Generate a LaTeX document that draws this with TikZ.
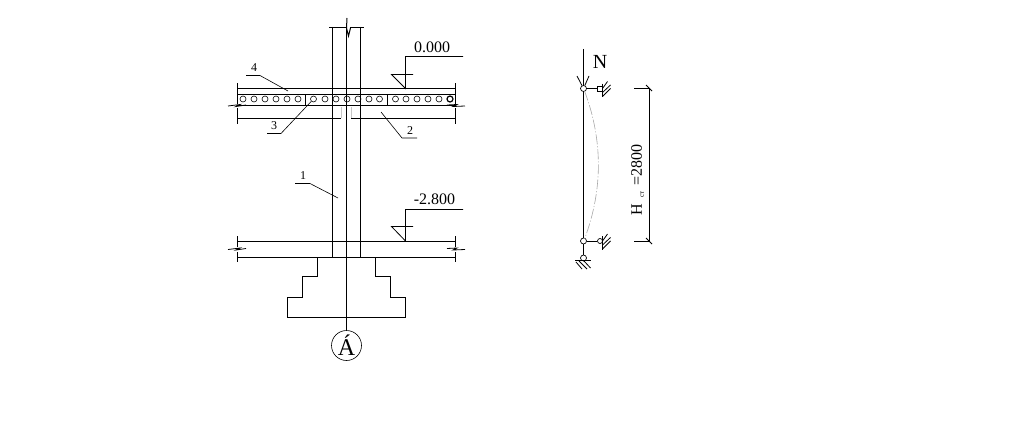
\documentclass[tikz,border=0pt]{standalone}
\usepackage{fontspec}
\setmainfont{Liberation Serif}
\tikzset{
  ln/.style={line width=0.8pt,black},
  thin ln/.style={line width=0.6pt,black},
  hole/.style={circle,draw,line width=0.6pt,minimum size=6pt,inner sep=0pt},
  lbl/.style={font=\fontsize{12}{12}\selectfont,inner sep=0pt},
  lvl/.style={font=\fontsize{16}{16}\selectfont,inner sep=0pt},
  ghost/.style={line width=0.5pt,gray!45},
  joint/.style={circle,draw,line width=0.7pt,minimum size=6pt,inner sep=0pt}
}
% break mark on a slab edge: centre x, level y of the mark
\newcommand{\brkL}[2]{\draw[ln] (#1-9.5,#2+0.5) -- (#1+2.5,#2-1) -- (#1-1.5,#2+1) -- (#1+8.5,#2-0.5);}
\newcommand{\brkR}[2]{\draw[ln] (#1-8.5,#2-0.5) -- (#1+1.5,#2-1) -- (#1-2.5,#2+1) -- (#1+9.5,#2+0.5);}
\begin{document}
\begin{tikzpicture}[x=1pt,y=-1pt]
\useasboundingbox (0,0) rectangle (1024,428);
% column
\draw[ln] (332.5,27) -- (332.5,257.5) (360.5,27) -- (360.5,257.5);
\draw[ln] (329,27) -- (346,27) (350,27) -- (364,27);
\draw[ln] (346.5,28) -- (346.5,331);
\draw[line width=1pt] (347,18) -- (346.5,28) -- (348.5,36) -- (350.5,28);
% slab
\draw[ln] (237.5,88.5) -- (455.5,88.5) (237.5,94) -- (455.5,94) (237.5,105.5) -- (455.5,105.5);
\draw[ln] (237.5,118.5) -- (341,118.5) (351,118.5) -- (455.5,118.5);
\draw[ln] (237.5,83) -- (237.5,103.5) (237.5,108) -- (237.5,124) (455.5,83) -- (455.5,103.5) (455.5,108) -- (455.5,124);
\draw[ln] (305.5,94) -- (305.5,105.5) (387.5,94) -- (387.5,105.5);
\draw[ghost] (341,107) -- (341,118) (351,107) -- (351,118);
\brkL{237.5}{105.5}
\brkR{455.5}{105.5}
\foreach \i/\x in {a/243,b/254,c/265,d/276,e/287,f/298,g/313.5,h/325,i/336,j/347,k/358,l/369,m/379.5,n/395.5,o/406,p/417,q/428,r/439}
  \node[hole] (h\i) at (\x,99) {};
\node[hole,line width=1.2pt] (hs) at (450,99) {};
% slab bottom
\draw[ln] (237.5,241) -- (455.5,241) (237.5,257.5) -- (455.5,257.5);
\draw[ln] (237.5,236) -- (237.5,247) (237.5,252) -- (237.5,262) (455.5,236) -- (455.5,247) (455.5,252) -- (455.5,262);
\brkL{237.5}{249}
\brkR{455.5}{249}
% footing
\draw[ln] (317.5,257.5) |- (302.5,276.5) |- (287.5,297) |- (405.5,317.5) |- (390.5,297) |- (375.5,276.5) -- (375.5,257.5);
% axis bubble
\node[circle,draw,line width=0.6pt,minimum size=30pt,inner sep=0pt,font=\fontsize{24}{24}\selectfont] (ax) at (346.5,345.5) {Á};
% leaders
\node[lbl] (n4) at (254,68) {4};
\draw[thin ln] (246,75.5) -- (260,75.5) -- (288,91);
\node[lbl] (n3) at (274,126) {3};
\draw[thin ln] (267,133.5) -- (281,133.5) -- (hg);
\node[lbl] (n2) at (410,131) {2};
\draw[thin ln] (417,138) -- (402,138) -- (381,112);
\node[lbl] (n1) at (303,176) {1};
\draw[thin ln] (295,183.5) -- (310,183.5) -- (338,198);
% levels
\node[lvl] (l0) at (432,47) {0.000};
\draw[ln] (463,56.5) -- (405.5,56.5) -- (405.5,88.5) -- (391.5,74.5) -- (413,74.5);
\node[lvl] (l1) at (434.5,199) {-2.800};
\draw[ln] (463,209.5) -- (405.5,209.5) -- (405.5,241) -- (391.5,226.5) -- (413,226.5);
% scheme
\node[joint] (j1) at (583.5,88.5) {};
\node[joint] (j2) at (583.5,241) {};
\node[joint] (j3) at (583.5,258) {};
\node[draw,line width=0.7pt,minimum size=5pt,inner sep=0pt] (s1) at (600,88.5) {};
\node[joint,minimum size=5pt] (s2) at (600,241) {};
\draw[ln] (583.5,49) -- (j1) (j1) -- (j2) (j2) -- (j3);
\draw[ln] (j1) -- (s1) (j2) -- (s2);
\draw[ln] (577,76) -- (j1) -- (589,76);
\node[font=\fontsize{20}{20}\selectfont,inner sep=0pt] (N) at (600,62) {N};
\foreach \y in {88.5,241}{
  \draw[ln] (602.5,\y-5) -- (602.5,\y+8.5);
  \draw[ln] (602.5,\y) -- (607.5,\y-7) (602.5,\y+4) -- (610.5,\y-3.5) (602.5,\y+8) -- (610.5,\y);
}
\draw[ln] (575,260.5) -- (591,260.5);
\draw[ln] (576,262) -- (582,269) (579,261) -- (587,269) (584,261) -- (590.5,268);
\draw[line width=0.6pt,gray!70,dash pattern=on 10pt off 2pt on 1pt off 2pt] (584.5,91) .. controls (603,140) and (603,190) .. (584.5,239);
% dimension
\draw[ln] (634,88.5) -- (650,88.5) (649.5,88.5) -- (649.5,241) (634,241) -- (650,241);
\draw[ln] (646,85) -- (652,91) (646,238) -- (652,244);
\node[rotate=90,inner sep=0pt,anchor=west,font=\fontsize{16}{16}\selectfont] (dim) at (637.5,216) {H\hspace{6.5pt}\raisebox{-2pt}{\fontsize{7}{7}\selectfont ст}\hspace{6pt}=2800};
\end{tikzpicture}
\end{document}
